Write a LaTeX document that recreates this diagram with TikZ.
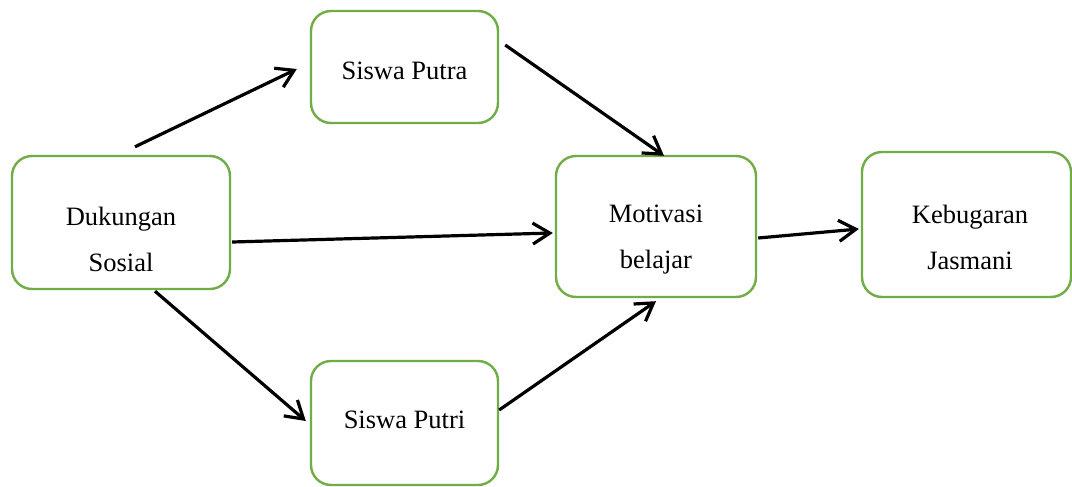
\documentclass[tikz,border=0pt]{standalone}
\usepackage{fontspec}
\setmainfont{Liberation Serif}
\usetikzlibrary{arrows.meta,calc}
\definecolor{boxgreen}{HTML}{70AD47}
\begin{document}
\begin{tikzpicture}[x=0.5pt,y=-0.5pt,
  box/.style={draw=boxgreen,line width=1.2pt,rounded corners=10pt,fill=white,inner sep=0pt},
  lbl/.style={font=\fontsize{13.25}{23}\selectfont,align=center,inner sep=0pt},
  arr/.style={draw=black,line width=1.6pt,-{Straight Barb[length=8.5pt,width=10.5pt,line width=1.6pt]}}]
\path[use as bounding box,fill=white] (0,0) rectangle (1072,487);
\node[box,minimum width=93.5pt,minimum height=56pt] (putra) at (404.5,67) {};
\node[box,minimum width=109pt,minimum height=66.5pt] (duk) at (121,222.5) {};
\node[box,minimum width=100pt,minimum height=70.5pt] (mot) at (656,226.5) {};
\node[box,minimum width=104.5pt,minimum height=72.5pt] (keb) at (966.5,224.5) {};
\node[box,minimum width=93.5pt,minimum height=62pt] (putri) at (404.5,423) {};
\node[lbl] (putraT) at (404.5,71) {Siswa Putra};
\node[lbl] (dukT) at (121,239) {Dukungan\\Sosial};
\node[lbl] (motT) at (656,240) {Motivasi\\belajar};
\node[lbl] (kebT) at (970,237) {Kebugaran\\Jasmani};
\node[lbl] (putriT) at (404.5,420) {Siswa Putri};
\draw[arr] ($(duk.north)+(14,-8)$) -- ($(putra.west)+(-13,2)$);
\draw[arr] ($(putra.east)+(6,-22)$) -- ($(mot.north)+(8,1)$);
\draw[arr] ($(duk.east)+(1,19.5)$) -- ($(mot.west)+(-2,6.5)$);
\draw[arr] ($(duk.south)+(34,1)$) -- ($(putri.west)+(-4,-2)$);
\draw[arr] ($(putri.east)+(0,-13)$) -- ($(mot.south)+(0,3)$);
\draw[arr] ($(mot.east)+(1,11.5)$) -- ($(keb.west)+(-2,4.5)$);
\end{tikzpicture}
\end{document}
